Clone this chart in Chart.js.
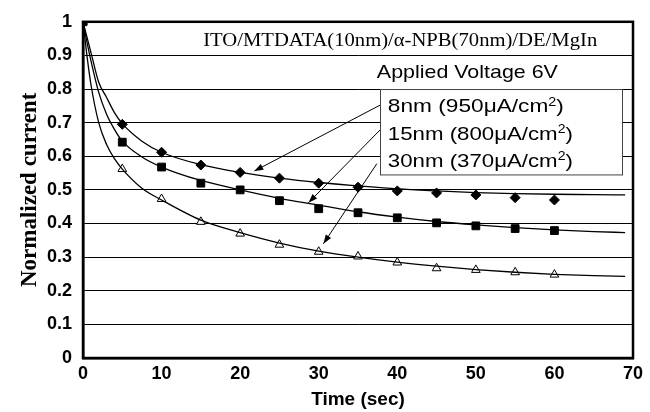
<!DOCTYPE html>
<html>
<head>
<meta charset="utf-8">
<script src="https://cdn.jsdelivr.net/npm/chart.js@4"></script>
<style>
  html, body { margin: 0; padding: 0; background: #fff; }
  #wrap { width: 650px; height: 412px; }
</style>
</head>
<body>
<div id="wrap"><canvas id="chart" width="650" height="412"></canvas></div>
<script>
// measured points (sec, normalized current)
const timeSec = [0, 5, 10, 15, 20, 25, 30, 35, 40, 45, 50, 55, 60];
const nm8  = [1, 0.695, 0.612, 0.574, 0.552, 0.535, 0.520, 0.508, 0.497, 0.491, 0.485, 0.477, 0.470];
const nm15 = [1, 0.642, 0.568, 0.520, 0.500, 0.468, 0.444, 0.432, 0.417, 0.402, 0.393, 0.385, 0.379];
const nm30 = [1, 0.562, 0.473, 0.405, 0.370, 0.337, 0.316, 0.302, 0.284, 0.267, 0.262, 0.255, 0.248];

// fitted curves
const fitTime = [0, 0.5, 1, 2, 3, 4, 5, 7.5, 10, 15, 20, 25, 30, 35, 40, 45, 50, 55, 60, 65, 69];
const fit8  = [1, 0.955, 0.91, 0.82, 0.775, 0.73, 0.697, 0.645, 0.612, 0.575, 0.552, 0.535, 0.522, 0.512, 0.503, 0.497, 0.492, 0.489, 0.487, 0.486, 0.485];
const fit15 = [1, 0.94, 0.885, 0.79, 0.725, 0.68, 0.645, 0.598, 0.568, 0.528, 0.500, 0.475, 0.455, 0.435, 0.419, 0.406, 0.396, 0.388, 0.381, 0.376, 0.373];
const fit30 = [1, 0.90, 0.815, 0.70, 0.635, 0.593, 0.562, 0.505, 0.470, 0.410, 0.373, 0.342, 0.318, 0.300, 0.285, 0.273, 0.263, 0.255, 0.249, 0.245, 0.243];

const seriesNames = ["8nm (950\u03bcA/cm", "15nm (800\u03bcA/cm", "30nm (370\u03bcA/cm"];
const headerText = "ITO/MTDATA(10nm)/\u03b1-NPB(70nm)/DE/MgIn";
const voltageText = "Applied Voltage 6V";

const xTicks = [0, 10, 20, 30, 40, 50, 60, 70];
const yTicks = [0, 0.1, 0.2, 0.3, 0.4, 0.5, 0.6, 0.7, 0.8, 0.9, 1];

function pts(xs, ys) {
  return xs.map((x, i) => ({ x: x, y: ys[i] }));
}

function curve(data) {
  return {
    data: data, showLine: true, pointRadius: 0, borderColor: "#000",
    borderWidth: 1.3, cubicInterpolationMode: "monotone", fill: false
  };
}

function markers(data, style, fillColor, r) {
  return {
    data: data, showLine: false, pointStyle: style, pointRadius: r,
    pointBackgroundColor: fillColor, pointBorderColor: "#000", pointBorderWidth: 1
  };
}

// draw text stretched horizontally to a given width (the scan is a bit wide)
function wideText(ctx, pieces, x, y, targetW) {
  let w = 0;
  pieces.forEach(p => { ctx.font = p.font; w += ctx.measureText(p.t).width; });
  const sx = targetW / w;
  ctx.save();
  ctx.translate(x, y);
  ctx.scale(sx, 1);
  let cx = 0;
  pieces.forEach(p => {
    ctx.font = p.font;
    ctx.fillText(p.t, cx, p.dy || 0);
    cx += ctx.measureText(p.t).width;
  });
  ctx.restore();
}

function arrow(ctx, x1, y1, x2, y2) {
  ctx.beginPath();
  ctx.moveTo(x1, y1);
  ctx.lineTo(x2, y2);
  ctx.stroke();
  const a = Math.atan2(y2 - y1, x2 - x1);
  const len = 9, half = 3.2;
  ctx.beginPath();
  ctx.moveTo(x2, y2);
  ctx.lineTo(x2 - len * Math.cos(a) + half * Math.sin(a), y2 - len * Math.sin(a) - half * Math.cos(a));
  ctx.lineTo(x2 - len * Math.cos(a) - half * Math.sin(a), y2 - len * Math.sin(a) + half * Math.cos(a));
  ctx.closePath();
  ctx.fill();
}

const notes = {
  id: "notes",
  afterDraw(chart) {
    const ctx = chart.ctx;
    const xs = chart.scales.x, ys = chart.scales.y;
    const X = v => xs.getPixelForValue(v), Y = v => ys.getPixelForValue(v);
    const area = chart.chartArea;
    ctx.save();
    ctx.fillStyle = "#000";
    ctx.strokeStyle = "#000";
    ctx.textBaseline = "middle";
    ctx.textAlign = "left";

    // header lines
    wideText(ctx, [{ t: headerText, font: "18px 'Liberation Serif'" }], X(15.3), Y(0.942), 394);
    wideText(ctx, [{ t: voltageText, font: "19px 'Liberation Sans'" }], X(37.4), Y(0.848), 181);

    // legend box
    const bx = X(37.8), by = Y(0.8), bw = X(68.6) - bx, bh = Y(0.546) - by;
    ctx.fillStyle = "#fff";
    ctx.fillRect(bx, by, bw, bh);
    ctx.strokeStyle = "#444";
    ctx.lineWidth = 1;
    ctx.strokeRect(bx + 0.5, by + 0.5, bw, bh);
    ctx.fillStyle = "#000";
    const rows = [0.746, 0.664, 0.584];
    seriesNames.forEach((s, i) => {
      wideText(ctx, [
        { t: s, font: "19px 'Liberation Sans'" },
        { t: "2", font: "12px 'Liberation Sans'", dy: -5 },
        { t: ")", font: "19px 'Liberation Sans'" }
      ], X(38.8), Y(rows[i]), i === 0 ? 176 : 185);
    });

    // arrows from legend to curves
    ctx.strokeStyle = "#000";
    ctx.lineWidth = 1;
    arrow(ctx, X(37.8), Y(0.752), X(21.8), Y(0.556));
    arrow(ctx, X(37.8), Y(0.678), X(28.7), Y(0.462));
    arrow(ctx, X(37.4), Y(0.578), X(30.6), Y(0.340));

    // heavy frame
    ctx.lineWidth = 2.5;
    ctx.strokeRect(area.left, area.top, area.right - area.left, area.bottom - area.top);
    ctx.restore();
  }
};

const ctx = document.getElementById("chart").getContext("2d");
new Chart(ctx, {
  type: "scatter",
  data: {
    datasets: [
      curve(pts(fitTime, fit8)),
      curve(pts(fitTime, fit15)),
      curve(pts(fitTime, fit30)),
      markers(pts(timeSec, nm8), "rectRot", "#000", 5),
      markers(pts(timeSec, nm15), "rect", "#000", 5.5),
      markers(pts(timeSec, nm30), "triangle", "#fff", 5)
    ]
  },
  options: {
    responsive: false,
    animation: false,
    layout: { padding: { top: 20, right: 17, left: 0, bottom: 0 } },
    plugins: { legend: { display: false }, tooltip: { enabled: false } },
    scales: {
      x: {
        type: "linear", min: 0, max: 70,
        afterBuildTicks: s => { s.ticks = xTicks.map(v => ({ value: v })); },
        afterFit: s => { s.height = 54; },
        grid: { display: false, drawTicks: false },
        border: { display: true, color: "#000", width: 2.5 },
        ticks: { color: "#000", padding: 5, font: { family: "'Liberation Sans'", size: 18, weight: "bold" } },
        title: {
          display: true, text: "Time (sec)", color: "#000",
          padding: { top: 0, bottom: 1 },
          font: { family: "'Liberation Sans'", size: 19, weight: "bold" }
        }
      },
      y: {
        type: "linear", min: 0, max: 1,
        afterBuildTicks: s => { s.ticks = yTicks.map(v => ({ value: v })); },
        afterFit: s => { s.width = 83; },
        grid: { color: "#000", lineWidth: 1, drawTicks: false },
        border: { display: true, color: "#000", width: 2.5 },
        ticks: {
          color: "#000", padding: 11,
          callback: v => String(v),
          font: { family: "'Liberation Sans'", size: 18, weight: "bold" }
        },
        title: {
          display: true, text: "Normalized current", color: "#000",
          padding: { top: 16, bottom: 0 },
          font: { family: "'Liberation Serif'", size: 23, weight: "bold" }
        }
      }
    }
  },
  plugins: [notes]
});
</script>
</body>
</html>
